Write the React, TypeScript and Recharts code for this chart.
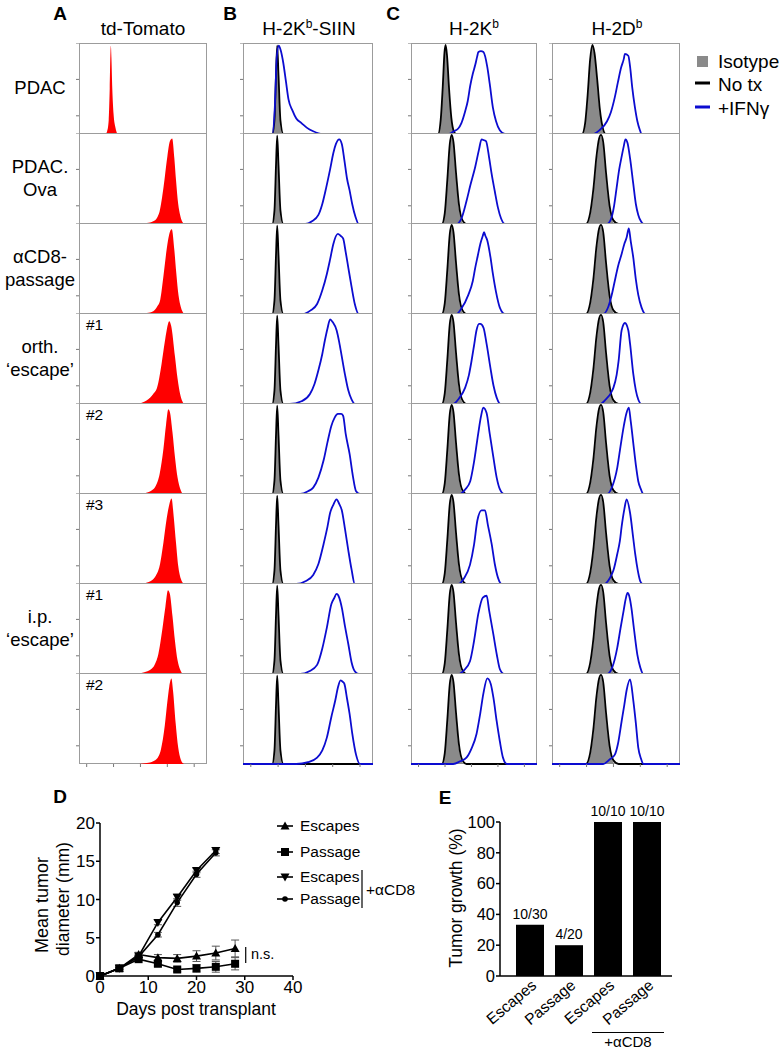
import React from "react"
import { Area, Bar, BarChart, ComposedChart, ErrorBar, LabelList, Line, LineChart, ReferenceLine, XAxis, YAxis } from "recharts"

type Pt = [number, number]

// ---- flow histograms (x = position across panel, 0-100; y = % of max) ----
const rowLabels: string[][] = [["PDAC"], ["PDAC.", "Ova"], ["αCD8-", "passage"], ["orth.", "‘escape’"], [], [], ["i.p.", "‘escape’"], []]
const cloneTags = ["", "", "", "#1", "#2", "#3", "#1", "#2"]

const tomato: Pt[][] = [
  [[20.5, 0], [22, 3], [23.2, 15], [24, 50], [24.6, 90], [24.9, 97], [25.3, 85], [26, 50], [27, 22], [28.5, 7], [30, 0]],
  [[47, 0], [53, 1], [58, 3], [61, 7], [63, 14], [66, 40], [69, 74], [71, 91], [72.8, 94], [74.5, 72], [75.8, 48], [77.5, 22], [79, 10], [82, 0]],
  [[47, 0], [53, 1], [58, 3], [61, 8], [63.5, 16], [66, 42], [69, 76], [71.2, 91], [72.5, 93], [74.5, 70], [76, 45], [77.8, 20], [79.5, 8], [82, 0]],
  [[44, 0], [50, 2], [55.5, 7], [58, 11], [61, 18], [64.5, 44], [67, 68], [68.5, 81], [70.5, 91], [72, 86], [75, 52], [77, 28], [79, 11], [82, 0]],
  [[46, 0], [52, 1], [57, 4], [60, 9], [63, 22], [66, 50], [68, 76], [69.8, 93], [71, 90], [73, 68], [75, 40], [77, 18], [79, 6], [81, 0]],
  [[46, 0], [52, 1], [57, 4], [60, 9], [63, 20], [66, 46], [68.5, 72], [70.5, 87], [72.3, 94], [74, 74], [75.8, 45], [77.5, 20], [79.5, 6], [82, 0]],
  [[45, 0], [51, 2], [56, 5], [59, 10], [62, 22], [65, 48], [67.5, 74], [69.5, 92], [71, 88], [73, 64], [75, 36], [77, 15], [79, 5], [81, 0]],
  [[47, 0], [53, 1], [58, 3], [61, 6], [64, 16], [67, 42], [69, 68], [70.5, 85], [72.2, 94], [73.5, 80], [75.5, 45], [77.5, 18], [79.5, 5], [82, 0]],
]

const siinIso: Pt[] = [[23, 0], [24.5, 15], [25.5, 60], [26.3, 95], [27.2, 60], [28.5, 15], [30, 0]]
const siinNoTx: Pt[] = [[0, 0], [22.5, 0], [24.2, 15], [25.4, 65], [26.3, 97], [27.3, 65], [28.8, 15], [31, 0], [100, 0]]
const siinIfn: Pt[][] = [
  [[0, 0], [22.5, 0], [24.5, 30], [26, 85], [27.5, 97], [29, 92], [31, 78], [33, 58], [35, 38], [38, 26], [41, 17], [45, 12], [49, 7], [54, 3], [61, 0], [100, 0]],
  [[0, 0], [48, 0], [53, 3], [58, 10], [61, 22], [64, 40], [67, 60], [69.5, 78], [71.5, 88], [74, 93], [76, 88], [78, 70], [80, 50], [82, 37], [84, 22], [86.5, 8], [89, 0], [100, 0]],
  [[0, 0], [46, 0], [52, 4], [57, 11], [61, 26], [64.5, 44], [67, 60], [69.5, 77], [73, 88], [75, 86], [77, 83], [79, 68], [81, 51], [83.5, 30], [86, 11], [89, 0], [100, 0]],
  [[0, 0], [36, 0], [45, 3], [51.5, 11], [55, 22], [58, 37], [61, 55], [63, 70], [65, 83], [67, 93], [69, 90], [72, 81], [74, 68], [76, 52], [78.5, 32], [81, 15], [83.5, 5], [86, 0], [100, 0]],
  [[0, 0], [44, 0], [50, 3], [54, 7], [58, 18], [62, 37], [65, 57], [68, 75], [70.5, 84], [73, 88], [75.5, 88], [77, 86], [79, 66], [82, 44], [84.5, 20], [87, 3], [90, 0], [100, 0]],
  [[0, 0], [41, 0], [48, 3], [54, 10], [58, 22], [62, 44], [65, 63], [67, 78], [69.5, 87], [72, 93], [74, 88], [76, 81], [78.5, 60], [81, 37], [83.5, 16], [86, 0], [100, 0]],
  [[0, 0], [44, 0], [51, 3], [57, 10], [61, 28], [64.5, 51], [68, 77], [70, 83], [72, 88], [74, 84], [76, 73], [78.5, 52], [81, 33], [83.5, 13], [86, 3], [89, 0], [100, 0]],
  [[0, 0], [41, 0], [50, 2], [57, 7], [61, 15], [64.5, 29], [68, 52], [71, 70], [73, 84], [75, 92], [77, 90], [78, 88], [80, 72], [82, 55], [84, 34], [87, 10], [90, 0], [100, 0]],
]

const kbIsoFirst: Pt[] = [[22, 0], [23.8, 15], [25.3, 50], [26.6, 88], [27.5, 97], [28.5, 85], [30, 50], [31.8, 18], [33.5, 3], [35, 0]]
const kbNoTxFirst: Pt[] = [[0, 0], [21.5, 0], [23.6, 16], [25.2, 52], [26.6, 90], [27.5, 98], [28.6, 86], [30.2, 50], [32, 18], [34, 3], [36, 0], [100, 0]]
const kbIso: Pt[] = [[25, 0], [27, 12], [29, 45], [31, 85], [32.3, 96], [33.5, 88], [35.5, 55], [37.5, 22], [39.5, 6], [42, 0]]
const kbNoTx: Pt[] = [[0, 0], [24.5, 0], [26.8, 12], [28.8, 48], [30.8, 88], [32.3, 98], [33.7, 90], [35.8, 55], [38, 22], [40.5, 5], [44, 0], [100, 0]]
const kbIfn: Pt[][] = [
  [[0, 0], [30, 0], [34, 3], [37.5, 6], [40, 12], [43, 25], [45, 36], [47, 53], [49, 66], [51, 76], [52.5, 85], [53.5, 90], [55.5, 91], [57.5, 90], [60.5, 74], [62.5, 55], [65, 29], [67.5, 14], [70.5, 4], [74.5, 0], [100, 0]],
  [[0, 0], [36, 0], [40, 6], [44, 25], [47, 42], [51, 63], [54, 82], [56, 93], [58, 92], [59.5, 91], [62, 73], [64, 55], [66.5, 36], [69, 18], [71.5, 6], [74.5, 0], [100, 0]],
  [[0, 0], [36, 0], [40, 6], [45.5, 21], [49, 36], [51, 51], [53, 64], [55, 77], [57, 86], [58, 90], [59, 86], [60.5, 81], [63, 63], [65, 44], [67.5, 24], [70.5, 7], [74.5, 0], [100, 0]],
  [[0, 0], [33.5, 0], [38, 6], [43, 18], [46, 32], [48, 47], [50, 64], [52, 81], [54, 88], [55, 88], [57.5, 84], [60, 66], [63, 40], [65.5, 20], [68, 7], [71, 0], [100, 0]],
  [[0, 0], [39, 0], [43, 5], [47, 14], [50, 35], [53.4, 67], [55.5, 85], [57.4, 95], [60, 89], [62.5, 66], [65.3, 41], [68, 18], [70.6, 5], [73.8, 0], [100, 0]],
  [[0, 0], [37.6, 0], [42, 6], [46.8, 21], [50, 43], [52.7, 70], [56, 81], [58.7, 81], [61, 65], [64, 44], [66.5, 22], [69, 7], [72, 0], [100, 0]],
  [[0, 0], [37.6, 0], [42, 4], [46.8, 14], [50, 36], [53.4, 66], [57, 84], [60, 86], [62, 70], [65.3, 44], [68, 22], [70.6, 5], [73.8, 0], [100, 0]],
  [[0, 0], [33.5, 0], [39, 3], [44, 7], [48, 17], [52, 33], [55, 56], [57.4, 77], [60.6, 94], [63.3, 88], [65.5, 72], [68, 47], [70.5, 25], [73, 7], [76, 0], [100, 0]],
]

const dbIsoFirst: Pt[] = [[24, 0], [26, 10], [28, 40], [30, 80], [31.5, 96], [33, 88], [35, 60], [37, 28], [39, 8], [41, 0]]
const dbNoTxFirst: Pt[] = [[0, 0], [23.5, 0], [25.8, 11], [27.8, 42], [29.8, 82], [31.5, 98], [33.2, 89], [35.3, 60], [37.4, 27], [39.6, 7], [42, 0], [100, 0]]
const dbIso: Pt[] = [[27, 0], [30, 10], [32.5, 35], [35, 72], [37, 92], [38.3, 96], [39.8, 88], [42, 55], [44.5, 22], [47, 5], [49, 0]]
const dbNoTx: Pt[] = [[0, 0], [26.5, 0], [29.8, 12], [32.3, 38], [34.8, 75], [36.8, 94], [38.3, 98], [40, 90], [42.3, 55], [45, 20], [48, 4], [52, 0], [100, 0]]
const dbIfn: Pt[][] = [
  [[0, 0], [32, 0], [37, 4], [43, 14], [46, 24], [49, 40], [51.5, 57], [54, 73], [56, 82], [57, 88], [59.6, 86], [61, 74], [62.7, 51], [64.7, 30], [66.7, 14], [68.5, 5], [70, 0], [100, 0]],
  [[0, 0], [43, 0], [46, 5], [48.5, 20], [50.5, 40], [52.5, 60], [54.4, 74], [56, 85], [57.4, 93], [59, 89], [61, 72], [63.5, 44], [65.5, 22], [67.4, 10], [69.5, 3], [71.5, 0], [100, 0]],
  [[0, 0], [40, 0], [44, 8], [46.5, 20], [49, 36], [51.5, 52], [54.4, 66], [56.5, 77], [58.3, 84], [60, 94], [61.5, 80], [63.5, 62], [65.5, 38], [67.4, 21], [70, 7], [73, 0], [100, 0]],
  [[0, 0], [37.5, 0], [42, 5], [46, 12], [48, 18], [50.5, 32], [52, 47], [54.4, 81], [57, 89], [59.6, 81], [61, 66], [63.5, 33], [65.5, 15], [67.4, 5], [70, 0], [100, 0]],
  [[0, 0], [43, 0], [47, 8], [51, 29], [53.5, 52], [56, 74], [58, 88], [60, 95], [61.5, 80], [63.5, 56], [65.5, 32], [67.4, 14], [69.5, 5], [71.3, 0], [100, 0]],
  [[0, 0], [41, 0], [45, 6], [48, 15], [51, 33], [53, 47], [54.4, 63], [56.5, 82], [58.3, 93], [61, 78], [63.5, 50], [65, 33], [67, 15], [69, 3], [71, 0], [100, 0]],
  [[0, 0], [43, 0], [47, 7], [51, 29], [53.5, 50], [56, 70], [57.5, 82], [59, 89], [60.5, 85], [62, 73], [64, 50], [66.7, 21], [69, 7], [71.3, 0], [100, 0]],
  [[0, 0], [40, 0], [45, 5], [49, 10], [51.5, 22], [54.4, 47], [56.5, 65], [58.3, 81], [61, 93], [63.5, 70], [65.5, 45], [67.4, 18], [69.5, 6], [71.3, 0], [100, 0]],
]

// ---- D: tumour growth ----
const days = [0, 4, 8, 12, 16, 20, 24, 28]
const escapes = [0, 1.0, 2.8, 2.4, 2.3, 2.6, 3.0, 3.6]
const escapesErr = [0, 0.15, 0.3, 0.4, 0.5, 0.7, 0.9, 1.1]
const passage = [0, 1.0, 2.2, 1.6, 0.85, 1.0, 1.2, 1.6]
const passageErr = [0, 0.1, 0.2, 0.3, 0.3, 0.5, 0.7, 0.8]
const escapesCD8 = [0, 1.0, 2.6, 7.0, 10.3, 13.8, 16.4]
const escapesCD8Err = [0, 0.1, 0.2, 0.3, 0.4, 0.3, 0.4]
const passageCD8 = [0, 1.0, 2.5, 5.4, 9.6, 13.3, 16.1]
const passageCD8Err = [0, 0.1, 0.2, 0.3, 0.5, 0.4, 0.4]

// ---- E: take rate ----
const groupKeys = ["esc", "pas", "escCD8", "pasCD8"]
const groupLabels = ["Escapes", "Passage", "Escapes", "Passage"]
const takePct = [33.3, 20, 100, 100]
const takeCounts = ["10/30", "4/20", "10/10", "10/10"]

const FONT = "'Liberation Sans', Arial, Helvetica, sans-serif"
const BLUE = "#0c0cd0"
const GRAY = "#8a8a8a"

const growthData = days.map((d, i) => ({
  day: d,
  escapes: escapes[i],
  escapesErr: escapesErr[i],
  passage: passage[i],
  passageErr: passageErr[i],
  escapesCD8: escapesCD8[i],
  escapesCD8Err: escapesCD8Err[i],
  passageCD8: passageCD8[i],
  passageCD8Err: passageCD8Err[i],
}))

const takeData = groupKeys.map((k, i) => ({ key: k, pct: takePct[i], count: takeCounts[i] }))

function merge(curves: Record<string, Pt[] | undefined>) {
  const rows: Record<string, number>[] = []
  for (const [key, pts] of Object.entries(curves)) {
    if (!pts) continue
    for (const [x, y] of pts) rows.push({ x, [key]: y })
  }
  return rows.sort((a, b) => a.x - b.x)
}

function T({ x, y, size = 18, anchor = "middle", bold, children }: any) {
  const tx = anchor === "middle" ? "-50%" : anchor === "end" ? "-100%" : "0"
  return (
    <div
      style={{
        position: "absolute", left: x, top: y, fontSize: size, lineHeight: 1, whiteSpace: "nowrap",
        fontWeight: bold ? 700 : 400,
        transform: `translate(${tx},-50%)`,
      }}
    >
      {children}
    </div>
  )
}

function RotLabel({ x, y, size, children }: any) {
  return (
    <div style={{ position: "absolute", left: x, top: y, width: 0, height: 0 }}>
      <div style={{ position: "absolute", transform: "translate(-50%,-50%) rotate(-90deg)", fontSize: size, lineHeight: 1, whiteSpace: "nowrap" }}>
        {children}
      </div>
    </div>
  )
}

function Hist({ left, width, row, red, iso, notx, ifn }: any) {
  const top = 43 + row * 90
  const last = row === 7
  const data = merge({ red, iso, notx, ifn })
  return (
    <div style={{ position: "absolute", left, top, width, height: 91, border: "1px solid #9c9c9c", boxSizing: "border-box" }}>
      <div style={{ position: "absolute", left: -5, top: -1 }}>
        <ComposedChart width={width + 4} height={last ? 95 : 91} data={data} margin={{ top: 0, right: 0, bottom: 0, left: 0 }}>
          <XAxis dataKey="x" type="number" domain={[0, 100]} ticks={[6, 27, 48, 69, 90]} hide={!last} height={4} tick={() => <g />} tickSize={3} axisLine={false} stroke="#777" />
          <YAxis type="number" domain={[0, 100]} ticks={[0, 20, 40, 60, 80, 100]} width={4} tickSize={3} tick={() => <g />} axisLine={false} stroke="#777" />
          {red && <Area dataKey="red" type="monotone" connectNulls fill="#ff0000" fillOpacity={1} stroke="none" dot={false} activeDot={false} isAnimationActive={false} />}
          {iso && <Area dataKey="iso" type="monotone" connectNulls fill={GRAY} fillOpacity={1} stroke="none" dot={false} activeDot={false} isAnimationActive={false} />}
          {notx && <Line dataKey="notx" type="monotone" connectNulls stroke="#000" strokeWidth={1.8} dot={false} activeDot={false} isAnimationActive={false} />}
          {ifn && <Line dataKey="ifn" type="monotone" connectNulls stroke={BLUE} strokeWidth={1.8} dot={false} activeDot={false} isAnimationActive={false} />}
        </ComposedChart>
      </div>
    </div>
  )
}

const marker = (kind: string) => (p: any) => {
  const { cx, cy, index } = p
  if (cx == null || cy == null || p.value == null) return <g key={`m${index}`} />
  if (kind === "up") return <path key={`m${index}`} d={`M${cx},${cy - 4.5}L${cx + 4.5},${cy + 3.5}L${cx - 4.5},${cy + 3.5}Z`} fill="#000" />
  if (kind === "down") return <path key={`m${index}`} d={`M${cx},${cy + 4.5}L${cx + 4.5},${cy - 3.5}L${cx - 4.5},${cy - 3.5}Z`} fill="#000" />
  if (kind === "sq") return <rect key={`m${index}`} x={cx - 4} y={cy - 4} width={8} height={8} fill="#000" />
  return <circle key={`m${index}`} cx={cx} cy={cy} r={2.8} fill="#000" />
}

function LegendMark({ kind, y }: { kind: string; y: number }) {
  return (
    <g>
      <line x1={7} x2={23} y1={y} y2={y} stroke="#000" strokeWidth={1.6} />
      {marker(kind)({ cx: 15, cy: y, index: kind, value: 1 })}
    </g>
  )
}

const TakeTick = (props: any) => {
  const { x, y, index } = props
  const ax = x + 8
  const ay = y + 3
  return (
    <text x={ax} y={ay} transform={`rotate(-40 ${ax} ${ay})`} textAnchor="end" fontSize={15.5} fill="#000">
      {groupLabels[index]}
    </text>
  )
}

export default function App() {
  const cols = [
    { left: 79, width: 128 },
    { left: 243, width: 130 },
    { left: 411, width: 126 },
    { left: 552, width: 128 },
  ]
  const sup = (s: string) => <span style={{ fontSize: 12, position: "relative", top: -7 }}>{s}</span>
  return (
    <div style={{ position: "absolute", left: 0, top: 0, width: 780, height: 1050, background: "#fff", fontFamily: FONT, color: "#000", overflow: "hidden" }}>
      {/* panel letters and headers */}
      <T x={60} y={13} size={19} bold>A</T>
      <T x={230} y={13} size={19} bold>B</T>
      <T x={393} y={13} size={19} bold>C</T>
      <T x={143} y={28} size={19}>td-Tomato</T>
      <T x={309} y={28} size={19}>H-2K{sup("b")}-SIIN</T>
      <T x={474} y={28} size={19}>H-2K{sup("b")}</T>
      <T x={617} y={28} size={19}>H-2D{sup("b")}</T>

      {rowLabels.map((lines, r) =>
        lines.map((s, j) => (
          <T key={`rl${r}-${j}`} x={40} y={88 + r * 90 + (lines.length === 1 ? 0 : j === 0 ? -11.5 : 11.5)} size={18.5}>
            {s}
          </T>
        ))
      )}

      {tomato.map((red, r) => (
        <Hist key={`a${r}`} left={cols[0].left} width={cols[0].width} row={r} red={red} />
      ))}
      {siinIfn.map((ifn, r) => (
        <Hist key={`b${r}`} left={cols[1].left} width={cols[1].width} row={r} iso={siinIso} notx={siinNoTx} ifn={ifn} />
      ))}
      {kbIfn.map((ifn, r) => (
        <Hist key={`c${r}`} left={cols[2].left} width={cols[2].width} row={r} iso={r === 0 ? kbIsoFirst : kbIso} notx={r === 0 ? kbNoTxFirst : kbNoTx} ifn={ifn} />
      ))}
      {dbIfn.map((ifn, r) => (
        <Hist key={`d${r}`} left={cols[3].left} width={cols[3].width} row={r} iso={r === 0 ? dbIsoFirst : dbIso} notx={r === 0 ? dbNoTxFirst : dbNoTx} ifn={ifn} />
      ))}

      {cloneTags.map((t, r) =>
        t ? (
          <T key={`tag${r}`} x={86} y={43 + r * 90 + 12} size={15.5} anchor="start">
            {t}
          </T>
        ) : null
      )}

      {/* histogram legend */}
      <svg style={{ position: "absolute", left: 690, top: 45 }} width={30} height={75}>
        <rect x={7} y={11} width={11} height={11} fill={GRAY} />
        <line x1={5} x2={20} y1={38} y2={38} stroke="#000" strokeWidth={3} />
        <line x1={5} x2={20} y1={62} y2={62} stroke={BLUE} strokeWidth={3} />
      </svg>
      <T x={718} y={61} size={19} anchor="start">Isotype</T>
      <T x={718} y={84} size={19} anchor="start">No tx</T>
      <T x={718} y={108} size={19} anchor="start">+IFNγ</T>

      {/* panel D */}
      <T x={60} y={796} size={19} bold>D</T>
      <div style={{ position: "absolute", left: 0, top: 800 }}>
        <LineChart width={420} height={240} data={growthData} margin={{ top: 23, right: 127, bottom: 19, left: 60 }}>
          <XAxis dataKey="day" type="number" domain={[0, 40]} ticks={[0, 10, 20, 30, 40]} height={45} tickSize={4} tickMargin={1}
            stroke="#000" strokeWidth={1.5} tick={{ fill: "#000", fontSize: 17 }} />
          <YAxis type="number" domain={[0, 20]} ticks={[0, 5, 10, 15, 20]} width={40} tickSize={4} tickMargin={1}
            stroke="#000" strokeWidth={1.5} tick={{ fill: "#000", fontSize: 17 }} />
          <ReferenceLine segment={[{ x: 30.2, y: 1.7 }, { x: 30.2, y: 3.8 }]} stroke="#000" strokeWidth={1.2} />
          <Line dataKey="escapes" stroke="#000" strokeWidth={1.6} dot={marker("up")} activeDot={false} isAnimationActive={false}>
            <ErrorBar dataKey="escapesErr" direction="y" width={4} stroke="#555" strokeWidth={1} />
          </Line>
          <Line dataKey="passage" stroke="#000" strokeWidth={1.6} dot={marker("sq")} activeDot={false} isAnimationActive={false}>
            <ErrorBar dataKey="passageErr" direction="y" width={4} stroke="#555" strokeWidth={1} />
          </Line>
          <Line dataKey="escapesCD8" stroke="#000" strokeWidth={1.6} dot={marker("down")} activeDot={false} isAnimationActive={false}>
            <ErrorBar dataKey="escapesCD8Err" direction="y" width={4} stroke="#555" strokeWidth={1} />
          </Line>
          <Line dataKey="passageCD8" stroke="#000" strokeWidth={1.6} dot={marker("dot")} activeDot={false} isAnimationActive={false}>
            <ErrorBar dataKey="passageCD8Err" direction="y" width={4} stroke="#555" strokeWidth={1} />
          </Line>
        </LineChart>
      </div>
      <T x={251} y={954} size={14.5} anchor="start">n.s.</T>
      <T x={196} y={1010} size={17.5}>Days post transplant</T>
      <RotLabel x={42} y={905} size={18}>Mean tumor</RotLabel>
      <RotLabel x={64} y={899} size={17.5}>diameter (mm)</RotLabel>
      <svg style={{ position: "absolute", left: 270, top: 812 }} width={160} height={110}>
        <LegendMark kind="up" y={14} />
        <LegendMark kind="sq" y={40} />
        <LegendMark kind="down" y={65} />
        <LegendMark kind="dot" y={87} />
        <line x1={92} x2={92} y1={58} y2={96} stroke="#000" strokeWidth={1.2} />
      </svg>
      <T x={300} y={826} size={15.5} anchor="start">Escapes</T>
      <T x={300} y={852} size={15.5} anchor="start">Passage</T>
      <T x={300} y={877} size={15.5} anchor="start">Escapes</T>
      <T x={300} y={899} size={15.5} anchor="start">Passage</T>
      <T x={366} y={890} size={15.5} anchor="start">+αCD8</T>

      {/* panel E */}
      <T x={445} y={797} size={19} bold>E</T>
      <div style={{ position: "absolute", left: 420, top: 800 }}>
        <BarChart width={360} height={250} data={takeData} margin={{ top: 22, right: 108, bottom: 0, left: 40 }}>
          <XAxis dataKey="key" height={74} tickLine={false} stroke="#000" strokeWidth={1.5} padding={{ left: 10, right: 6 }} interval={0} tick={<TakeTick />} />
          <YAxis type="number" domain={[0, 100]} ticks={[0, 20, 40, 60, 80, 100]} width={40} tickSize={4} tickMargin={1}
            stroke="#000" strokeWidth={1.5} tick={{ fill: "#000", fontSize: 16.5 }} />
          <Bar dataKey="pct" fill="#000" barSize={28} isAnimationActive={false}>
            <LabelList dataKey="count" position="top" offset={6} fill="#000" fontSize={14} />
          </Bar>
        </BarChart>
      </div>
      <RotLabel x={457} y={898} size={17.5}>Tumor growth (%)</RotLabel>
      <div style={{ position: "absolute", left: 592, top: 1032, width: 72, borderTop: "1px solid #000" }} />
      <T x={628} y={1041} size={15}>+αCD8</T>
    </div>
  )
}
